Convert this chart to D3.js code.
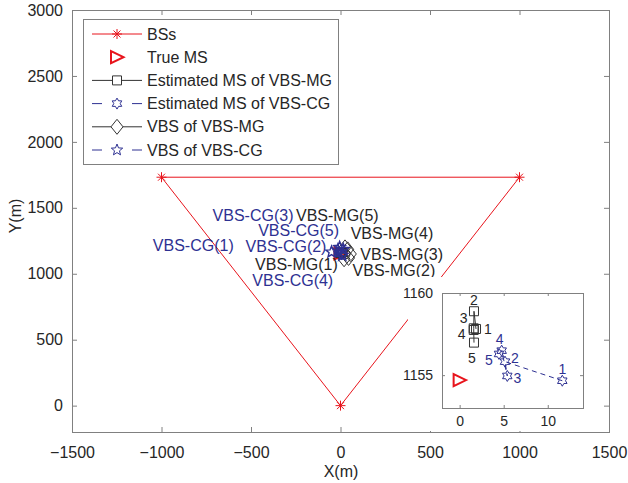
<!DOCTYPE html>
<html>
<head>
<meta charset="utf-8">
<script src="https://cdnjs.cloudflare.com/ajax/libs/d3/7.8.5/d3.min.js"></script>
<style>
  body { margin: 0; background: #fff; }
  text { font-family: "Liberation Sans", Arial, sans-serif; fill: #262626; }
</style>
</head>
<body>
<script>
// base stations (corners of the triangle)
const bsX = [-1000, 1000, 0];
const bsY = [1732, 1732, 0];
// true mobile station
const msX = [0];
const msY = [1154.7];
// estimated MS positions, 5 runs each
const estMgX = [1.86, 1.63, 1.6, 1.6, 1.63];
const estMgY = [1157.81, 1158.89, 1157.85, 1157.75, 1156.98];
const estCgX = [11.65, 5.15, 5.41, 4.77, 4.47];
const estCgY = [1154.66, 1155.82, 1154.95, 1156.49, 1156.29];
// virtual base stations
const vbsMgX = [20, 45, 55, 40, 25];
const vbsMgY = [1110, 1120, 1150, 1185, 1200];
const vbsCgX = [-15, -50, -5, 10, 15];
const vbsCgY = [1180, 1165, 1200, 1140, 1185];

const vbsMgNames = ["VBS-MG(1)", "VBS-MG(2)", "VBS-MG(3)", "VBS-MG(4)", "VBS-MG(5)"];
const vbsCgNames = ["VBS-CG(1)", "VBS-CG(2)", "VBS-CG(3)", "VBS-CG(4)", "VBS-CG(5)"];
const runNames = ["1", "2", "3", "4", "5"];

const xTicks = [-1500, -1000, -500, 0, 500, 1000, 1500];
const yTicks = [0, 500, 1000, 1500, 2000, 2500, 3000];
const insetXTicks = [0, 5, 10];
const insetYTicks = [1155, 1160];
const legendLabels = ["BSs", "True MS", "Estimated MS of VBS-MG", "Estimated MS of VBS-CG", "VBS of VBS-MG", "VBS of VBS-CG"];

const red = "#e8141c", blue = "#2e3192", blk = "#333333", axc = "#808080";

const W = 628, H = 483;
const svg = d3.select("body").append("svg").attr("width", W).attr("height", H);

function starPath(n, R, r) {
  const pts = [];
  for (let i = 0; i < 2 * n; i++) {
    const a = -Math.PI / 2 + i * Math.PI / n;
    const rad = i % 2 ? r : R;
    pts.push([rad * Math.cos(a), rad * Math.sin(a)]);
  }
  return "M" + pts.map(p => p[0].toFixed(2) + "," + p[1].toFixed(2)).join("L") + "Z";
}
const sym = {
  asterisk: "M-5,0H5M0,-5V5M-3.5,-3.5L3.5,3.5M-3.5,3.5L3.5,-3.5",
  triangle: "M6.5,0L-6,-6L-6,6Z",
  square: "M-4.5,-4.5H4.5V4.5H-4.5Z",
  hexagram: starPath(6, 5.5, 3.2),
  diamond: "M0,-7.5L6,0L0,7.5L-6,0Z",
  pentagram: starPath(5, 6, 2.6)
};

// main axes
const x = d3.scaleLinear().domain([-1500, 1500]).range([72, 609]);
const y = d3.scaleLinear().domain([-200, 3000]).range([432, 10]);
const fmt = d3.format("d");

function frame(g, xs, ys, xt, yt, tick, fsize, pad) {
  g.append("g").attr("transform", `translate(0,${ys.range()[0]})`)
    .call(d3.axisBottom(xs).tickValues(xt).tickFormat(fmt).tickSizeInner(-tick).tickSizeOuter(0).tickPadding(pad[0]))
    .call(a => a.select(".domain").remove());
  g.append("g").attr("transform", `translate(0,${ys.range()[1]})`)
    .call(d3.axisTop(xs).tickValues(xt).tickSizeInner(-tick).tickSizeOuter(0).tickFormat(""))
    .call(a => a.select(".domain").remove());
  g.append("g").attr("transform", `translate(${xs.range()[0]},0)`)
    .call(d3.axisLeft(ys).tickValues(yt).tickFormat(fmt).tickSizeInner(-tick).tickSizeOuter(0).tickPadding(pad[1]))
    .call(a => a.select(".domain").remove());
  g.append("g").attr("transform", `translate(${xs.range()[1]},0)`)
    .call(d3.axisRight(ys).tickValues(yt).tickSizeInner(-tick).tickSizeOuter(0).tickFormat(""))
    .call(a => a.select(".domain").remove());
  g.selectAll(".tick line").attr("stroke", axc);
  g.selectAll(".tick text").attr("font-size", fsize).attr("font-family", null).attr("fill", "#262626");
  g.append("rect")
    .attr("x", xs.range()[0] + 0.5).attr("y", ys.range()[1] + 0.5)
    .attr("width", xs.range()[1] - xs.range()[0]).attr("height", ys.range()[0] - ys.range()[1])
    .attr("fill", "none").attr("stroke", axc);
}

function drawSeries(g, xs, ys, X, Y, shape, color, dash, sw) {
  const idx = d3.range(X.length);
  const line = d3.line().x(i => xs(X[i])).y(i => ys(Y[i]));
  if (dash !== null) {
    g.append("path").attr("d", line(idx)).attr("fill", "none")
      .attr("stroke", color).attr("stroke-width", 1).attr("stroke-dasharray", dash);
  }
  g.selectAll(null).data(idx).join("path")
    .attr("transform", i => `translate(${xs(X[i])},${ys(Y[i])})`)
    .attr("d", sym[shape]).attr("fill", "none").attr("stroke", color).attr("stroke-width", sw);
}

const main = svg.append("g");
frame(main, x, y, xTicks, yTicks, 5, 16, [15, 9]);

// BS triangle, closed
const bsPath = d3.line().x(i => x(bsX[i])).y(i => y(bsY[i]));
main.append("path").attr("d", bsPath([0, 1, 2, 0])).attr("fill", "none").attr("stroke", red);
drawSeries(main, x, y, bsX, bsY, "asterisk", red, null, 1);
drawSeries(main, x, y, msX, msY, "triangle", red, null, 2);
drawSeries(main, x, y, estMgX, estMgY, "square", blk, "", 1);
drawSeries(main, x, y, estCgX, estCgY, "hexagram", blue, "5,4", 1.4);
drawSeries(main, x, y, vbsMgX, vbsMgY, "diamond", blk, "", 1);
drawSeries(main, x, y, vbsCgX, vbsCgY, "pentagram", blue, "5,4", 1.4);

// labels next to the virtual base stations (pixel offsets)
const mgOff = [[-89, 5], [4, 12], [10, 0], [3, -16], [-49, -32]];
const cgOff = [[-185, -5], [-86, -6], [-127, -32], [-90, 25], [-85, -19]];
main.selectAll(null).data(d3.range(5)).join("text")
  .attr("x", i => x(vbsMgX[i]) + mgOff[i][0]).attr("y", i => y(vbsMgY[i]) + mgOff[i][1])
  .attr("dy", "0.35em").attr("font-size", 16).text(i => vbsMgNames[i]);
main.selectAll(null).data(d3.range(5)).join("text")
  .attr("x", i => x(vbsCgX[i]) + cgOff[i][0]).attr("y", i => y(vbsCgY[i]) + cgOff[i][1])
  .attr("dy", "0.35em").attr("font-size", 16).style("fill", blue).text(i => vbsCgNames[i]);

// axis titles
svg.append("text").attr("x", 341).attr("y", 471).attr("dy", "0.35em")
  .attr("text-anchor", "middle").attr("font-size", 16).text("X(m)");
svg.append("text").attr("transform", "translate(15,216) rotate(-90)").attr("dy", "0.35em")
  .attr("text-anchor", "middle").attr("font-size", 16).text("Y(m)");

// legend
const lg = svg.append("g");
lg.append("rect").attr("x", 83.5).attr("y", 19.5).attr("width", 255).attr("height", 145)
  .attr("fill", "#fff").attr("stroke", axc);
const lgShape = ["asterisk", "triangle", "square", "hexagram", "diamond", "pentagram"];
const lgColor = [red, red, blk, blue, blk, blue];
const lgDash = ["", null, "", "10,30", "", "10,30"];
legendLabels.forEach((lab, i) => {
  const ry = 34 + i * 23.2;
  const row = lg.append("g").attr("transform", `translate(0,${ry})`);
  if (lgDash[i] !== null) {
    row.append("line").attr("x1", 92).attr("x2", 142).attr("stroke", lgColor[i])
      .attr("stroke-dasharray", lgDash[i]);
  }
  row.append("path").attr("transform", "translate(117,0)").attr("d", sym[lgShape[i]])
    .attr("fill", lgShape[i] === "diamond" || lgShape[i] === "square" ? "#fff" : "none")
    .attr("stroke", lgColor[i]).attr("stroke-width", lgShape[i] === "triangle" ? 2 : 1);
  row.append("text").attr("x", 147).attr("dy", "0.35em").attr("font-size", 16).text(lab);
});

// zoomed inset
svg.append("rect").attr("x", 408).attr("y", 277).attr("width", 192).attr("height", 154).attr("fill", "#fff");
const xi = d3.scaleLinear().domain([-2, 14]).range([442, 583]);
const yi = d3.scaleLinear().domain([1153, 1160]).range([408, 293]);
const inset = svg.append("g");
inset.append("rect").attr("x", 442).attr("y", 293).attr("width", 141).attr("height", 115).attr("fill", "#fff");
frame(inset, xi, yi, insetXTicks, insetYTicks, 3, 14, [8, 9]);
drawSeries(inset, xi, yi, msX, msY, "triangle", red, null, 2);
drawSeries(inset, xi, yi, estMgX, estMgY, "square", blk, "", 1);
drawSeries(inset, xi, yi, estCgX, estCgY, "hexagram", blue, "5,4", 1);
const mgInOff = [[12, 0], [0, -11], [-10, -10], [-12, 4], [-2, 15]];
const cgInOff = [[0, -12], [10, -4], [10, 2], [-2, -12], [-10, 6]];
inset.selectAll(null).data(d3.range(5)).join("text")
  .attr("x", i => xi(estMgX[i]) + mgInOff[i][0]).attr("y", i => yi(estMgY[i]) + mgInOff[i][1])
  .attr("dy", "0.35em").attr("text-anchor", "middle").attr("font-size", 14).text(i => runNames[i]);
inset.selectAll(null).data(d3.range(5)).join("text")
  .attr("x", i => xi(estCgX[i]) + cgInOff[i][0]).attr("y", i => yi(estCgY[i]) + cgInOff[i][1])
  .attr("dy", "0.35em").attr("text-anchor", "middle").attr("font-size", 14).style("fill", blue).text(i => runNames[i]);
</script>
</body>
</html>
